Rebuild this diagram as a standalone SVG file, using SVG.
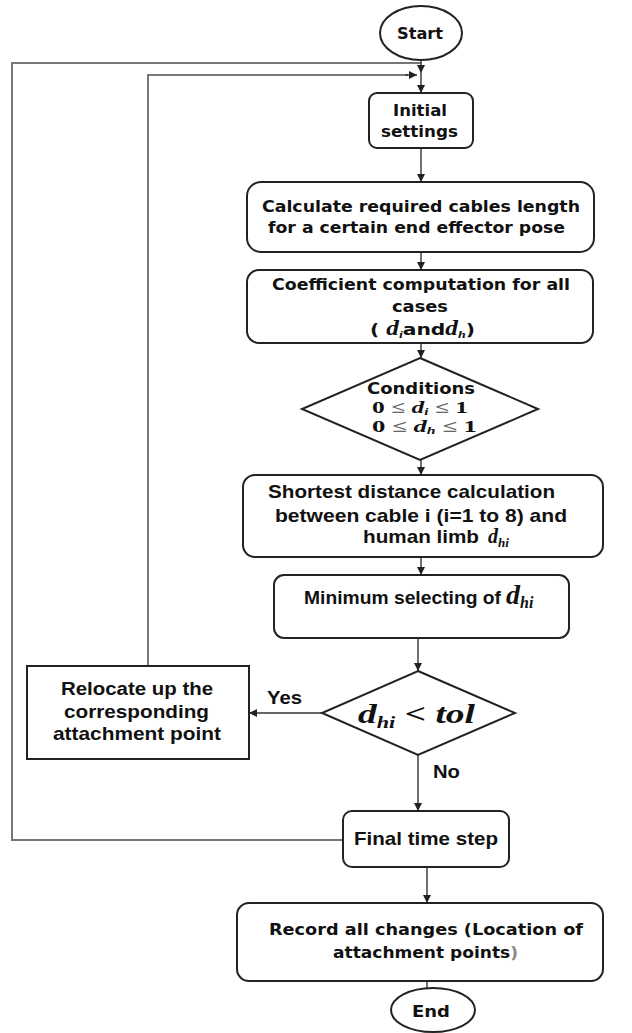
<svg xmlns="http://www.w3.org/2000/svg" width="632" height="1033" viewBox="0 0 632 1033">
<defs>
<marker id="arr" viewBox="0 0 10 10" refX="10" refY="5" markerWidth="8" markerHeight="8" markerUnits="userSpaceOnUse" orient="auto">
<path d="M0,0 L10,5 L0,10 z" fill="#222"/>
</marker>
<style>
.box{fill:#fff;stroke:#222;stroke-width:2}
.con{fill:none;stroke:#333;stroke-width:1.4}
.loop{fill:none;stroke:#777;stroke-width:2}
.ti{font-family:"DejaVu Sans",Inter,sans-serif;font-weight:bold;font-size:16px;fill:#111}
.ta{font-family:"Liberation Sans",Arial,sans-serif;font-weight:bold;font-size:18.5px;fill:#111}
.m{font-family:"Liberation Serif","DejaVu Serif",serif;font-weight:bold;font-style:italic;fill:#111}
.mr{font-family:"Liberation Serif","DejaVu Serif",serif;font-weight:bold;fill:#111}
</style>
</defs>
<rect width="632" height="1033" fill="#fff"/>
<g id="connectors">
<path class="loop" d="M343,840 H12 V63 H421"/>
<path class="con" d="M421,60 V73" marker-end="url(#arr)"/>
<path class="loop" d="M148,666 V75 H408"/>
<path class="con" d="M405,75 H417" marker-end="url(#arr)"/>
<path class="con" d="M421,73 V93" marker-end="url(#arr)"/>
<path class="con" d="M421,148 V182" marker-end="url(#arr)"/>
<path class="con" d="M421,252 V270" marker-end="url(#arr)"/>
<path class="con" d="M421,343 V358" marker-end="url(#arr)"/>
<path class="con" d="M421,460 V475" marker-end="url(#arr)"/>
<path class="con" d="M421,557 V575" marker-end="url(#arr)"/>
<path class="con" d="M418,638 V671" marker-end="url(#arr)"/>
<path class="con" d="M322,713 H249" marker-end="url(#arr)"/>
<path class="con" d="M418,755 V811" marker-end="url(#arr)"/>
<path class="con" d="M427,867 V903" marker-end="url(#arr)"/>
<path class="con" d="M427,981 V988"/>
<text class="ta" x="267" y="704" textLength="35" lengthAdjust="spacingAndGlyphs">Yes</text>
<text class="ta" x="433" y="778" textLength="27" lengthAdjust="spacingAndGlyphs">No</text>
</g>
<g id="start">
<ellipse class="box" cx="421" cy="33" rx="41" ry="27"/>
<text class="ti" x="397" y="39" font-size="17" textLength="46" lengthAdjust="spacingAndGlyphs">Start</text>
</g>
<g id="initial">
<rect class="box" x="369" y="93" width="104" height="55" rx="8"/>
<text class="ti" x="393" y="116" font-size="17" textLength="54" lengthAdjust="spacingAndGlyphs">Initial</text>
<text class="ti" x="381" y="137" font-size="17" textLength="77" lengthAdjust="spacingAndGlyphs">settings</text>
</g>
<g id="calculate">
<rect class="box" x="247" y="182" width="347" height="70" rx="14"/>
<text class="ti" x="262" y="212" textLength="318" lengthAdjust="spacingAndGlyphs">Calculate required cables length</text>
<text class="ti" x="268" y="233" textLength="297" lengthAdjust="spacingAndGlyphs">for a certain end effector pose</text>
</g>
<g id="coefficient">
<rect class="box" x="247" y="270" width="346" height="73" rx="12"/>
<text class="ti" x="272" y="290" textLength="298" lengthAdjust="spacingAndGlyphs">Coefficient computation for all</text>
<text class="ti" x="392" y="312" textLength="56" lengthAdjust="spacingAndGlyphs">cases</text>
<text x="370" y="335" class="ti" textLength="105" lengthAdjust="spacingAndGlyphs">( <tspan class="m" font-size="20">d</tspan><tspan class="m" font-size="11" dy="3">i</tspan><tspan dy="-3">and</tspan><tspan class="m" font-size="20">d</tspan><tspan class="m" font-size="11" dy="3">h</tspan><tspan dy="-3">)</tspan></text>
</g>
<g id="conditions">
<path class="box" d="M420,358 L538,409 L420,460 L302,409 z"/>
<text class="ti" x="367" y="394" textLength="108" lengthAdjust="spacingAndGlyphs">Conditions</text>
<text x="372" y="413" class="mr" font-size="17" textLength="96" lengthAdjust="spacingAndGlyphs">0 <tspan fill="#666">≤</tspan> <tspan class="m">d</tspan><tspan class="m" font-size="10" dy="2">i</tspan><tspan dy="-2"> </tspan><tspan fill="#666">≤</tspan> 1</text>
<text x="372" y="432" class="mr" font-size="17" textLength="105" lengthAdjust="spacingAndGlyphs">0 <tspan fill="#666">≤</tspan> <tspan class="m">d</tspan><tspan class="m" font-size="10" dy="2">h</tspan><tspan dy="-2"> </tspan><tspan fill="#666">≤</tspan> 1</text>
</g>
<g id="shortest">
<rect class="box" x="243" y="475" width="360" height="82" rx="12"/>
<text class="ta" x="268" y="498" textLength="287" lengthAdjust="spacingAndGlyphs">Shortest distance calculation</text>
<text class="ta" x="275" y="522" textLength="292" lengthAdjust="spacingAndGlyphs">between cable i  (i=1 to 8) and</text>
<text class="ta" x="363" y="543" textLength="116" lengthAdjust="spacingAndGlyphs">human limb</text>
<text class="m" x="488" y="543" font-size="20">d<tspan font-size="13" dy="4">hi</tspan></text>
</g>
<g id="minimum">
<rect class="box" x="274" y="575" width="295" height="63" rx="10"/>
<text class="ta" x="304" y="604" textLength="197" lengthAdjust="spacingAndGlyphs">Minimum selecting of</text>
<text class="m" x="506" y="604" font-size="28">d<tspan font-size="16" dy="4">hi</tspan></text>
</g>
<g id="decision">
<path class="box" d="M418,671 L515,713 L418,755 L322,713 z"/>
<text x="358" y="723" class="m" font-size="27" textLength="117" lengthAdjust="spacingAndGlyphs">d<tspan font-size="16" dy="5">hi</tspan><tspan dy="-5" class="mr" font-weight="normal" font-style="normal" fill="#777">  &lt; </tspan>tol</text>
</g>
<g id="relocate">
<rect class="box" x="27" y="666" width="222" height="93"/>
<text class="ta" x="61" y="695" textLength="152" lengthAdjust="spacingAndGlyphs">Relocate up the</text>
<text class="ta" x="64" y="718" textLength="145" lengthAdjust="spacingAndGlyphs">corresponding</text>
<text class="ta" x="53" y="740" textLength="168" lengthAdjust="spacingAndGlyphs">attachment point</text>
</g>
<g id="final">
<rect class="box" x="343" y="811" width="166" height="56" rx="9"/>
<text class="ta" x="354" y="845" font-size="17.5" textLength="144" lengthAdjust="spacingAndGlyphs">Final time step</text>
</g>
<g id="record">
<rect class="box" x="237" y="903" width="366" height="78" rx="12"/>
<text class="ti" x="269" y="935" textLength="314" lengthAdjust="spacingAndGlyphs">Record all changes (Location of</text>
<text class="ti" x="333" y="958" textLength="185" lengthAdjust="spacingAndGlyphs">attachment points<tspan fill="#888">)</tspan></text>
</g>
<g id="end">
<ellipse class="box" cx="433" cy="1010" rx="42" ry="22"/>
<text class="ti" x="412" y="1017" font-size="17" textLength="38" lengthAdjust="spacingAndGlyphs">End</text>
</g>
</svg>
